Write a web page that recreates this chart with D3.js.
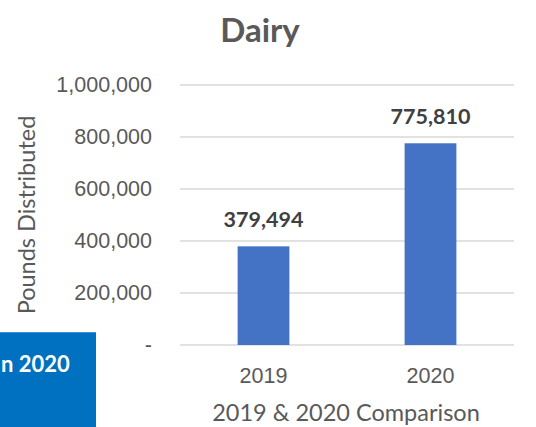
<!DOCTYPE html>
<html>
<head>
<meta charset="utf-8">
<script src="https://cdn.jsdelivr.net/npm/d3@7"></script>
<style>
  body { margin: 0; background: #fff; }
  svg { display: block; font-family: Lato, "Open Sans", sans-serif; }
</style>
</head>
<body>
<div id="chart"></div>
<script>
const categories = ["2019", "2020"];
const values = [379494, 775810];
const yTicks = [0, 200000, 400000, 600000, 800000, 1000000];
const title = "Dairy";
const yTitle = "Pounds Distributed";
const xTitle = "2019 & 2020 Comparison";

const W = 536, H = 427;
const margin = { top: 85, right: 22, bottom: 82, left: 180 },
      width = W - margin.left - margin.right,
      height = H - margin.top - margin.bottom;

const svg = d3.select("#chart").append("svg")
    .attr("width", W)
    .attr("height", H);

const g = svg.append("g")
    .attr("transform", `translate(${margin.left},${margin.top})`);

const x = d3.scaleBand()
  .domain(categories)
  .range([0, width])
  .paddingInner(0.69)
  .paddingOuter(0.345);

const y = d3.scaleLinear()
  .domain([0, 1000000])
  .range([height, 0]);

const fmt = d => d === 0 ? "-" : d3.format(",")(d);

// gridlines
g.append("g")
  .selectAll("line")
  .data(yTicks)
  .join("line")
    .attr("x1", 0)
    .attr("x2", width)
    .attr("y1", d => y(d))
    .attr("y2", d => y(d))
    .attr("stroke", "#d9d9d9")
    .attr("stroke-width", 1.3);

// y axis labels
const yAxis = g.append("g")
  .call(d3.axisLeft(y).tickValues(yTicks).tickFormat(fmt).tickSize(0).tickPadding(28));
yAxis.select(".domain").remove();
yAxis.selectAll("text")
  .attr("fill", "#595959")
  .style("font-size", "21.5px");

// bars
g.selectAll(".bar")
  .data(values)
  .join("rect")
    .attr("class", "bar")
    .attr("x", (d, i) => x(categories[i]))
    .attr("y", d => y(d))
    .attr("width", x.bandwidth())
    .attr("height", d => height - y(d))
    .attr("fill", "#4472c4");

// data labels
g.selectAll(".bar-text")
  .data(values)
  .join("text")
    .attr("class", "bar-text")
    .attr("x", (d, i) => x(categories[i]) + x.bandwidth() / 2)
    .attr("y", d => y(d) - 19)
    .attr("text-anchor", "middle")
    .attr("font-weight", "bold")
    .attr("fill", "#404040")
    .style("font-size", "21.5px")
    .text(d => d3.format(",")(d));

// x axis labels
const xAxis = g.append("g")
  .attr("transform", `translate(0,${height})`)
  .call(d3.axisBottom(x).tickSize(0));
xAxis.select(".domain").remove();
xAxis.selectAll("text")
  .attr("y", 38)
  .attr("dy", 0)
  .attr("fill", "#595959")
  .style("font-size", "21.5px");

// titles
svg.append("text")
  .attr("x", 260)
  .attr("y", 42)
  .attr("text-anchor", "middle")
  .attr("font-weight", "bold")
  .attr("fill", "#595959")
  .style("font-size", "33px")
  .text(title);

svg.append("text")
  .attr("transform", "translate(35,215) rotate(-90)")
  .attr("text-anchor", "middle")
  .attr("fill", "#595959")
  .style("font-size", "23.5px")
  .text(yTitle);

svg.append("text")
  .attr("x", 346)
  .attr("y", 421)
  .attr("text-anchor", "middle")
  .attr("fill", "#595959")
  .style("font-size", "23.5px")
  .text(xTitle);

// blue overlay box from neighbouring slide content
svg.append("rect")
  .attr("x", 0)
  .attr("y", 332)
  .attr("width", 96)
  .attr("height", H - 332)
  .attr("fill", "#0070c0");

svg.append("line")
  .attr("x1", 0)
  .attr("x2", 96)
  .attr("y1", 332.5)
  .attr("y2", 332.5)
  .attr("stroke", "#3d8fd0")
  .attr("stroke-width", 1);

svg.append("text")
  .attr("x", 1)
  .attr("y", 372)
  .attr("text-anchor", "start")
  .attr("font-weight", "bold")
  .attr("fill", "#fff")
  .style("font-size", "22px")
  .text("n 2020");
</script>
</body>
</html>
